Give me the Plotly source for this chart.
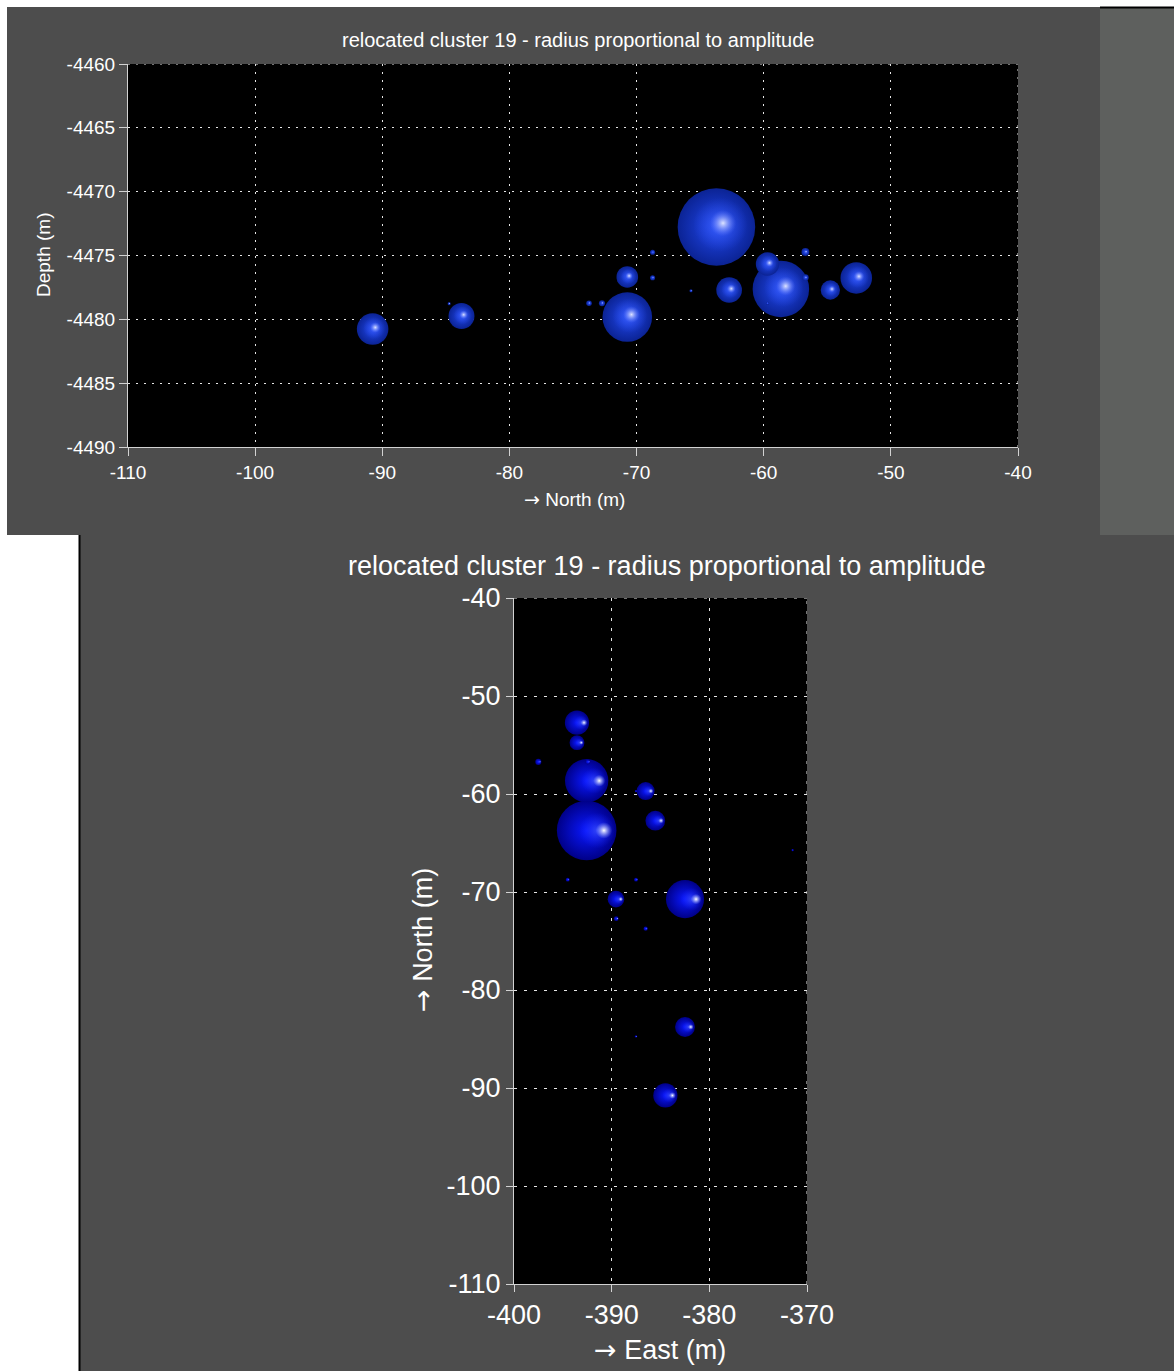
import plotly.graph_objects as go

W, H = 1174, 1371

# Relocated events of cluster 19 (metres) and their amplitude-scaled radius
east = [-392.56, -392.56, -382.49, -384.50, -382.49, -389.56, -385.53, -386.52,
        -393.55, -393.55, -397.51, -392.45, -394.50, -387.51, -371.47, -389.53,
        -386.52, -387.51, -387.51]
north = [-63.72, -58.65, -70.73, -90.76, -83.77, -70.73, -62.72, -59.70,
         -52.72, -54.76, -56.72, -56.72, -68.74, -68.74, -65.72, -72.72,
         -73.74, -84.74, -59.70]
depth = [-4472.77, -4477.62, -4479.82, -4480.76, -4479.74, -4476.68, -4477.70,
         -4475.67, -4476.76, -4477.70, -4474.73, -4476.73, -4474.75, -4476.74,
         -4477.76, -4478.74, -4478.74, -4478.77, -4478.74]
radius = [3.05, 2.22, 1.95, 1.24, 1.02, 0.85, 1.01, 0.92, 1.24, 0.76, 0.31,
          0.26, 0.20, 0.20, 0.12, 0.24, 0.22, 0.12, 0.12]

north_ticks = [-110, -100, -90, -80, -70, -60, -50, -40]
north_labels = ["-110", "-100", "-90", "-80", "-70", "-60", "-50", "-40"]
depth_ticks = [-4490, -4485, -4480, -4475, -4470, -4465, -4460]
depth_labels = ["-4490", "-4485", "-4480", "-4475", "-4470", "-4465", "-4460"]
east_ticks = [-400, -390, -380, -370]
east_labels = ["-400", "-390", "-380", "-370"]

title_text = "relocated cluster 19 - radius proportional to amplitude"
ARROW = '<span style="font-family:DejaVu Sans">→</span>'
FONT = "Liberation Sans, Arial, sans-serif"
PANEL = "#4d4d4d"
AXIS = "#d2d2d2"
GRID = "#e6e6e6"

# plot boxes in pixels: (left, top, right, bottom)
top_box = (128, 64, 1018, 447)
bot_box = (514, 598, 807, 1284)


def px(x):
    return x / W


def py(y):
    return 1 - y / H


fig = go.Figure()

# side-view sphere shading (light from upper right), map-view shading (light from right)
side_style = dict(edge="#0b2394", core="#2148ee",
                  glow_in="rgba(70,105,255,0.75)", glow_out="rgba(45,80,245,0)",
                  hi_in="rgba(222,228,255,1)", hi_out="rgba(95,120,255,0)",
                  off=(0.17, 0.10), glow=0.7, hi=0.34)
map_style = dict(edge="#000088", core="#0a18ff",
                 glow_in="rgba(60,80,255,0.85)", glow_out="rgba(20,35,255,0)",
                 hi_in="rgba(255,255,255,1)", hi_out="rgba(150,165,255,0)",
                 off=(0.58, 0.0), glow=0.6, hi=0.28)


def add_spheres(xs, ys, order, xa, ya, scale, st):
    for i in order:
        x, y, r = xs[i], ys[i], radius[i]
        d = 2 * r * scale
        common = dict(mode="markers", xaxis=xa, yaxis=ya, hoverinfo="skip",
                      showlegend=False)
        fig.add_trace(go.Scatter(
            x=[x], y=[y],
            marker=dict(size=d, color=st["edge"], line=dict(width=0),
                        gradient=dict(type="radial", color=st["core"])),
            **common))
        gx = x + st["off"][0] * r * 0.6
        gy = y + st["off"][1] * r * 0.6
        fig.add_trace(go.Scatter(
            x=[gx], y=[gy],
            marker=dict(size=d * st["glow"], color=st["glow_out"], line=dict(width=0),
                        gradient=dict(type="radial", color=st["glow_in"])),
            **common))
        hx = x + st["off"][0] * r
        hy = y + st["off"][1] * r
        fig.add_trace(go.Scatter(
            x=[hx], y=[hy],
            marker=dict(size=d * st["hi"], color=st["hi_out"], line=dict(width=0),
                        gradient=dict(type="radial", color=st["hi_in"])),
            **common))


n = len(radius)
top_scale = (top_box[2] - top_box[0]) / (north_ticks[-1] - north_ticks[0])
bot_scale = (bot_box[2] - bot_box[0]) / (east_ticks[-1] - east_ticks[0])

# side view: looking west, nearer (more easterly) events drawn last
add_spheres(north, depth, sorted(range(n), key=lambda i: east[i]), "x", "y",
            top_scale, side_style)
# map view: looking down, shallower events drawn last
add_spheres(east, north, sorted(range(n), key=lambda i: depth[i]), "x2", "y2",
            bot_scale, map_style)

axis_common = dict(showline=True, linecolor=AXIS, linewidth=1, ticks="outside",
                   tickcolor=AXIS, showgrid=True, gridcolor=GRID, gridwidth=1,
                   zeroline=False, tickmode="array", fixedrange=True,
                   automargin=False)

fig.update_layout(
    width=W, height=H,
    margin=dict(l=0, r=0, t=0, b=0, pad=0, autoexpand=False),
    paper_bgcolor="white",
    plot_bgcolor="black",
    showlegend=False,
    xaxis=dict(domain=[px(top_box[0]), px(top_box[2])], anchor="y",
               range=[north_ticks[0], north_ticks[-1]], tickvals=north_ticks,
               ticktext=north_labels, ticklen=8, griddash="2px,6px",
               tickfont=dict(family=FONT, size=19, color="white"), **axis_common),
    yaxis=dict(domain=[py(top_box[3]), py(top_box[1])], anchor="x",
               range=[depth_ticks[0], depth_ticks[-1]], tickvals=depth_ticks,
               ticktext=depth_labels, ticklen=8, griddash="2px,6px",
               tickfont=dict(family=FONT, size=19, color="white"), **axis_common),
    xaxis2=dict(domain=[px(bot_box[0]), px(bot_box[2])], anchor="y2",
                range=[east_ticks[0], east_ticks[-1]], tickvals=east_ticks,
                ticktext=east_labels, ticklen=7, griddash="3px,7px",
                tickfont=dict(family=FONT, size=27, color="white"), **axis_common),
    yaxis2=dict(domain=[py(bot_box[3]), py(bot_box[1])], anchor="x2",
                range=[north_ticks[0], north_ticks[-1]], tickvals=north_ticks,
                ticktext=north_labels, ticklen=7, griddash="3px,7px",
                tickfont=dict(family=FONT, size=27, color="white"), **axis_common),
)

# window panels
shapes = [
    dict(type="rect", xref="paper", yref="paper", x0=px(7), x1=px(1100),
         y0=py(535), y1=py(7), fillcolor=PANEL, line=dict(width=0), layer="below"),
    dict(type="rect", xref="paper", yref="paper", x0=px(1100), x1=px(1174),
         y0=py(535), y1=py(7), fillcolor="#5e605e", line=dict(width=0), layer="below"),
    dict(type="line", xref="paper", yref="paper", x0=px(1100), x1=px(1174),
         y0=py(7.5), y1=py(7.5), line=dict(color="black", width=2), layer="below"),
    dict(type="rect", xref="paper", yref="paper", x0=px(80), x1=px(1174),
         y0=py(1371), y1=py(535), fillcolor=PANEL, line=dict(width=0), layer="below"),
    dict(type="line", xref="paper", yref="paper", x0=px(79.5), x1=px(79.5),
         y0=py(1371), y1=py(535), line=dict(color="black", width=2), layer="below"),
]
# black plotting areas and dotted grid along the top/right range limits
for xa, ya, xt, yt, dash in (("x", "y", north_ticks, depth_ticks, "2px,6px"),
                             ("x2", "y2", east_ticks, north_ticks, "3px,7px")):
    shapes.append(dict(type="rect", xref=xa + " domain", yref=ya + " domain",
                       x0=0, x1=1, y0=0, y1=1, fillcolor="black",
                       line=dict(width=0), layer="below"))
    shapes.append(dict(type="line", xref=xa + " domain", yref=ya, x0=0, x1=1,
                       y0=yt[-1], y1=yt[-1], line=dict(color=GRID, width=1, dash=dash),
                       layer="above"))
    shapes.append(dict(type="line", xref=xa, yref=ya + " domain", x0=xt[-1], x1=xt[-1],
                       y0=0, y1=1, line=dict(color=GRID, width=1, dash=dash),
                       layer="above"))
fig.update_layout(shapes=shapes)


def label(text, x, y, size, angle=0):
    return dict(text=text, xref="paper", yref="paper", x=px(x), y=py(y),
                xanchor="center", yanchor="middle", showarrow=False, textangle=angle,
                font=dict(family=FONT, size=size, color="white"))


fig.update_layout(annotations=[
    label(title_text, 578, 40, 20),
    label(ARROW + " North (m)", 574, 499, 19),
    label("Depth (m)", 44, 255, 19, -90),
    label(title_text, 667, 566, 27),
    label(ARROW + " East (m)", 660, 1349, 27),
    label(ARROW + " North (m)", 422, 940, 27, -90),
])

fig.write_html("out.html")
